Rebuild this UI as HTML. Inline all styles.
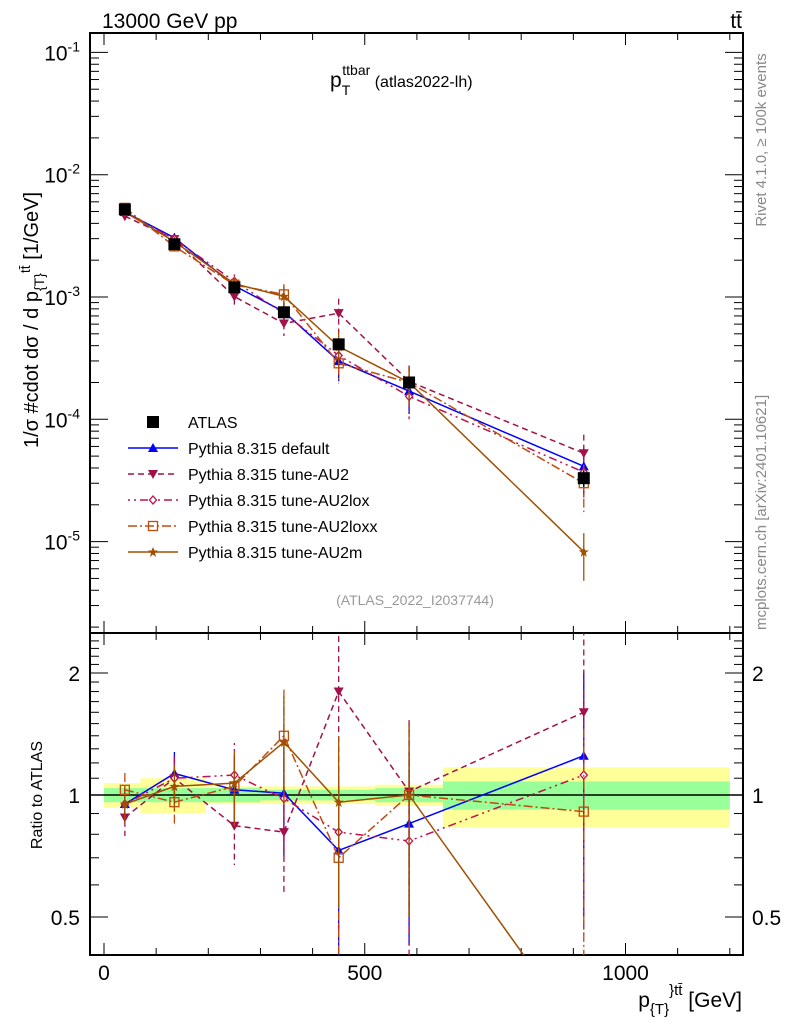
<!DOCTYPE html>
<html><head><meta charset="utf-8">
<style>
html,body{margin:0;padding:0;background:#fff;width:786px;height:1024px;overflow:hidden;}
svg{display:block;font-family:"Liberation Sans",sans-serif;}
</style></head>
<body>
<svg id="c" width="786" height="1024" viewBox="0 0 786 1024" xmlns="http://www.w3.org/2000/svg">
<text x="102" y="28" font-size="21">13000 GeV pp</text>
<text x="742" y="28" font-size="21" text-anchor="end">tt̄</text>
<text x="330" y="87" font-size="21">p<tspan dy="8" font-size="14">T</tspan><tspan dx="-8" dy="-20" font-size="14">ttbar</tspan><tspan dy="12" font-size="16"> (atlas2022-lh)</tspan></text>
<text x="415" y="605" font-size="14" fill="#999" text-anchor="middle">(ATLAS_2022_I2037744)</text>
<text transform="translate(766,300) rotate(-90)" font-size="15" fill="#888" text-anchor="middle" x="160" y="0">Rivet 4.1.0, ≥ 100k events</text>
<text transform="translate(766,630) rotate(-90)" font-size="15" fill="#888" x="0" y="0">mcplots.cern.ch [arXiv:2401.10621]</text>
<text transform="translate(38,320) rotate(-90)" font-size="20" text-anchor="middle">1/σ #cdot dσ / d p<tspan dy="6" font-size="14">{T}</tspan><tspan dy="-14" font-size="14">tt̄</tspan><tspan dy="8"> [1/GeV]</tspan></text>
<text transform="translate(42,795) rotate(-90)" font-size="16" text-anchor="middle">Ratio to ATLAS</text>
<text x="742" y="1007" font-size="21" text-anchor="end">p<tspan dy="7" font-size="15">{T}</tspan><tspan dy="-19" font-size="15">}tt̄</tspan><tspan dy="12"> [GeV]</tspan></text>
<g id="g"></g>
</svg>
<script>
const xCenters=[40,135,250,345,450,585,920];
const binEdges=[0,70,195,300,380,520,650,1200];
const atlas=[5.2e-3,2.7e-3,1.2e-3,7.5e-4,4.1e-4,2.0e-4,3.3e-5];
const atlasErr=[0.05,0.05,0.06,0.07,0.09,0.1,0.15];
const bandInner=[0.04,0.04,0.04,0.03,0.03,0.04,0.08];
const bandOuter=[0.07,0.1,0.05,0.05,0.05,0.06,0.17];
const ratioDefault=[0.95,1.13,1.03,1.01,0.73,0.85,1.25];
const ratioAU2=[0.88,1.1,0.84,0.81,1.8,1.02,1.6];
const ratioAU2lox=[0.95,1.1,1.12,0.98,0.81,0.77,1.12];
const ratioAU2loxx=[1.03,0.96,1.05,1.4,0.7,1.0,0.91];
const ratioAU2m=[0.95,1.05,1.07,1.35,0.96,1.0,0.25];
const relErr=[0.1,0.13,0.2,0.3,0.45,0.5,0.6];
const mainTicks=[-1,-2,-3,-4,-5];
const ratioTicks=[2,1,0.5];
const xTicks=[0,500,1000];

const NS="http://www.w3.org/2000/svg";
const g=document.getElementById('g');
const L=90,R=743,T1=33,B1=633,T2=633,B2=955;
const X=v=>104+v*0.5215;
const YM=v=>297-(Math.log10(v)+3)*122.3;
const YR=v=>795-Math.log2(v)*122;
function el(t,a,p){const e=document.createElementNS(NS,t);for(const k in a)e.setAttribute(k,a[k]);(p||g).appendChild(e);return e;}
const clipM=el('clipPath',{id:'cm'});el('rect',{x:L,y:T1,width:R-L,height:B1-T1},clipM);
const clipR=el('clipPath',{id:'cr'});el('rect',{x:L,y:T2,width:R-L,height:B2-T2},clipR);

for(let i=0;i<7;i++){
  const x0=X(binEdges[i]),x1=X(binEdges[i+1]);
  const y=el('rect',{x:x0,y:YR(1+bandOuter[i]),width:x1-x0,height:YR(1-bandOuter[i])-YR(1+bandOuter[i]),fill:'#ffff99'});
  
  
  const gr=el('rect',{x:x0,y:YR(1+bandInner[i]),width:x1-x0,height:YR(1-bandInner[i])-YR(1+bandInner[i]),fill:'#99ff99'});
  
  
}
el('line',{x1:L,x2:R,y1:YR(1),y2:YR(1),stroke:'#000','stroke-width':1.5});

for(const [t,b] of [[T1,B1],[T2,B2]]) el('rect',{x:L,y:t,width:R-L,height:b-t,fill:'none',stroke:'#000','stroke-width':2});
for(let v=0;v<=1200;v+=100){const x=X(v),big=v%500==0?12:7;
  for(const [t,b] of [[T1,B1],[T2,B2]]){el('line',{x1:x,x2:x,y1:b,y2:b-big,stroke:'#000'});el('line',{x1:x,x2:x,y1:t,y2:t+big,stroke:'#000'});}}
xTicks.forEach(v=>{const t=el('text',{x:X(v),y:980,'font-size':21,'text-anchor':'middle'});t.textContent=v;
  });
for(let d=-6;d<=-1;d++)for(let m=1;m<10;m++){const y=YM(m*Math.pow(10,d));if(y<T1||y>B1)continue;const w=m==1?18:9;
  el('line',{x1:L,x2:L+w,y1:y,y2:y,stroke:'#000'});el('line',{x1:R,x2:R-w,y1:y,y2:y,stroke:'#000'});}
mainTicks.forEach(d=>{const t=el('text',{x:80,y:YM(Math.pow(10,d))+8,'font-size':21,'text-anchor':'end'});
  t.innerHTML='10<tspan dy="-9" font-size="14">'+d+'</tspan>';
  });
for(let v=0.4;v<=2.5;v+=0.1){const y=YR(v);if(y<T2||y>B2)continue;const big=Math.abs(v-1)<1e-6||Math.abs(v-2)<1e-6||Math.abs(v-0.5)<1e-6;const w=big?18:9;
  el('line',{x1:L,x2:L+w,y1:y,y2:y,stroke:'#000'});el('line',{x1:R,x2:R-w,y1:y,y2:y,stroke:'#000'});}
ratioTicks.forEach(v=>{for(const [x,a] of [[80,'end'],[752,'start']]){const t=el('text',{x:x,y:YR(v)+8,'font-size':21,'text-anchor':a});t.textContent=v;
  }});

function marker(kind,x,y,c,p){
  if(kind=='up')return el('path',{d:`M${x-5},${y+4}L${x+5},${y+4}L${x},${y-5}Z`,fill:c},p);
  if(kind=='down')return el('path',{d:`M${x-5},${y-4}L${x+5},${y-4}L${x},${y+5}Z`,fill:c},p);
  if(kind=='diamond')return el('path',{d:`M${x},${y-4}L${x+3.5},${y}L${x},${y+4}L${x-3.5},${y}Z`,fill:'#fff',stroke:c,'stroke-width':1.3},p);
  if(kind=='square')return el('rect',{x:x-4.5,y:y-4.5,width:9,height:9,fill:'none',stroke:c,'stroke-width':1.3},p);
  if(kind=='star')return el('path',{d:`M${x},${y-5}L${x+1.5},${y-1.5}L${x+5},${y-1.5}L${x+2},${y+1}L${x+3},${y+5}L${x},${y+2.5}L${x-3},${y+5}L${x-2},${y+1}L${x-5},${y-1.5}L${x-1.5},${y-1.5}Z`,fill:c},p);
  return el('rect',{x:x-6,y:y-6,width:12,height:12,fill:c},p);
}
const series=[
 {n:'default',r:ratioDefault,c:'#0000ff',d:'',m:'up'},
 {n:'AU2',r:ratioAU2,c:'#a0104a',d:'6,4',m:'down'},
 {n:'AU2lox',r:ratioAU2lox,c:'#c01050',d:'2,4,2,4,8,4',m:'diamond'},
 {n:'AU2loxx',r:ratioAU2loxx,c:'#c04a10',d:'9,3,2,3',m:'square'},
 {n:'AU2m',r:ratioAU2m,c:'#a05000',d:'',m:'star'}];
const gm=el('g',{'clip-path':'url(#cm)'}),gr=el('g',{'clip-path':'url(#cr)'});
series.forEach(s=>{
  const pm=s.r.map((r,i)=>[X(xCenters[i]),YM(r*atlas[i])]);
  const pr=s.r.map((r,i)=>[X(xCenters[i]),YR(r)]);
  for(const [pts,grp,Y,isR] of [[pm,gm,YM,0],[pr,gr,YR,1]]){
    const ln=el('polyline',{points:pts.map(p=>p.join(',')).join(' '),fill:'none',stroke:s.c,'stroke-width':1.5,'stroke-dasharray':s.d},grp);
    
    
    s.r.forEach((r,i)=>{const v=isR?r:r*atlas[i],e=relErr[i]*(isR?1:0.7);
      el('line',{x1:pts[i][0],x2:pts[i][0],y1:Y(v*(1+e)),y2:Y(Math.max(v*(1-e),1e-9)),stroke:s.c,'stroke-width':1.3,'stroke-dasharray':s.d},grp);
      const mk=marker(s.m,pts[i][0],pts[i][1],s.c,grp);
      
      });
  }
});
atlas.forEach((v,i)=>{const x=X(xCenters[i]);
  el('line',{x1:x,x2:x,y1:YM(v*(1+atlasErr[i])),y2:YM(v*(1-atlasErr[i])),stroke:'#000','stroke-width':1.5},gm);
  const mk=marker('sq',x,YM(v),'#000',gm);
  
  });

const leg=[['ATLAS','#000','','sq',0],['Pythia 8.315 default','#0000ff','','up',1],['Pythia 8.315 tune-AU2','#a0104a','6,4','down',1],
 ['Pythia 8.315 tune-AU2lox','#c01050','2,4,2,4,8,4','diamond',1],['Pythia 8.315 tune-AU2loxx','#c04a10','9,3,2,3','square',1],['Pythia 8.315 tune-AU2m','#a05000','','star',1]];
leg.forEach((l,i)=>{const y=422+i*26;const lg=el('g',{});
  
  
  if(l[4])el('line',{x1:128,x2:178,y1:y,y2:y,stroke:l[1],'stroke-width':1.5,'stroke-dasharray':l[2]},lg);
  marker(l[3],153,y,l[1],lg);
  const t=el('text',{x:188,y:y+6,'font-size':16},lg);t.textContent=l[0];});
</script>
</body></html>
